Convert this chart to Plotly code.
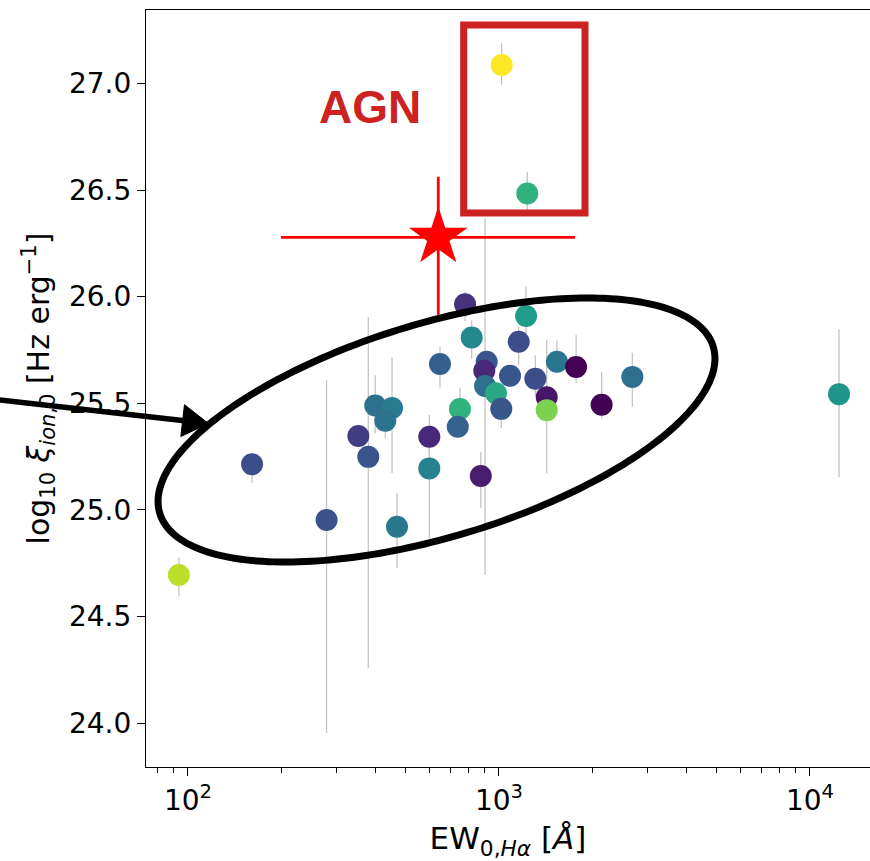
import numpy as np
import plotly.graph_objects as go

# ---- data ----
ew = [160.7, 279, 93.5, 353, 380, 400, 453, 431, 597, 597, 470, 646, 778, 1222, 817,
      1157, 913, 897, 902, 978, 749, 737, 1017, 1085, 1309, 1536, 1770, 1424, 1424,
      2138, 2684, 12400, 1020, 1233, 874]
xi = [25.214, 24.953, 24.695, 25.347, 25.249, 25.49, 25.478, 25.418, 25.343, 25.195,
      24.921, 25.684, 25.964, 25.909, 25.809, 25.789, 25.695, 25.653, 25.581, 25.547,
      25.473, 25.39, 25.474, 25.629, 25.615, 25.695, 25.67, 25.528, 25.468, 25.493,
      25.624, 25.543, 27.086, 26.484, 25.159]
err_up = [0.053, 0.656, 0.081, 0.03, 0.656, 0.142, 0.236, 0.04, 0.05, 0.25,
          0.158, 0.08, 0.06, 0.138, 0.08, 0.07, 0.05, 0.05, 0.788, 0.05,
          0.10, 0.05, 0.05, 0.05, 0.11, 0.10, 0.15, 0.27, 0.10, 0.155,
          0.113, 0.304, 0.102, 0.10, 0.114]
err_dn = [0.088, 0.999, 0.10, 0.03, 0.99, 0.13, 0.305, 0.08, 0.08, 0.327,
          0.194, 0.11, 0.08, 0.11, 0.10, 0.11, 0.05, 0.05, 0.886, 0.05,
          0.08, 0.05, 0.09, 0.05, 0.08, 0.05, 0.075, 0.05, 0.297, 0.064,
          0.14, 0.39, 0.093, 0.077, 0.15]
cval = [0.24, 0.25, 0.90, 0.18, 0.26, 0.37, 0.42, 0.38, 0.11, 0.45,
        0.40, 0.30, 0.14, 0.55, 0.47, 0.24, 0.27, 0.11, 0.37, 0.60,
        0.64, 0.31, 0.27, 0.27, 0.24, 0.39, 0.00, 0.06, 0.80, 0.00,
        0.36, 0.52, 1.00, 0.64, 0.08]

star_ew = [638]
star_xi = [26.278]
star_ew_lo = [439]
star_ew_hi = [1117]
star_xi_up = [0.284]
star_xi_dn = [0.363]

x_tickvals = [100, 1000, 10000]
x_ticktext = ["10<sup>2</sup>", "10<sup>3</sup>", "10<sup>4</sup>"]
y_tickvals = [24.0, 24.5, 25.0, 25.5, 26.0, 26.5, 27.0]

# ---- layout geometry (pixels) ----
W, H = 870, 861
ML, MR, MT, MB = 146, 0, 10, 94
PW, PH = W - ML - MR, H - MT - MB


def to_paper(px, py):
    return (np.asarray(px, dtype=float) - ML) / PW, (H - MB - np.asarray(py, dtype=float)) / PH


fig = go.Figure()

fig.add_trace(go.Scatter(
    x=ew, y=xi, mode="markers",
    marker=dict(size=22, color=cval, colorscale="Viridis", cmin=0, cmax=1,
                line=dict(width=0)),
    error_y=dict(type="data", symmetric=False, array=err_up, arrayminus=err_dn,
                 color="#c4c4c4", thickness=1.3, width=0),
    showlegend=False,
))

fig.add_trace(go.Scatter(
    x=star_ew, y=star_xi, mode="markers",
    marker=dict(symbol="star", size=44, color="#ff0000", line=dict(width=0)),
    error_x=dict(type="data", symmetric=False, array=star_ew_hi, arrayminus=star_ew_lo,
                 color="#ff0000", thickness=2.8, width=0),
    error_y=dict(type="data", symmetric=False, array=star_xi_up, arrayminus=star_xi_dn,
                 color="#ff0000", thickness=2.8, width=0),
    showlegend=False,
))

# ellipse outline (annotation shape)
t = np.linspace(0, 2 * np.pi, 241)
cx, cy, a, b, th = 436.5, 430.0, 289.0, 107.0, np.deg2rad(16.75)
ex = cx + a * np.cos(t) * np.cos(th) - b * np.sin(t) * np.sin(th)
ey = cy - (a * np.cos(t) * np.sin(th) + b * np.sin(t) * np.cos(th))
epx, epy = to_paper(ex, ey)
path = "M " + " L ".join(f"{u:.5f},{v:.5f}" for u, v in zip(epx, epy)) + " Z"
fig.add_shape(type="path", path=path, xref="paper", yref="paper",
              line=dict(color="black", width=7), layer="above")

# arrow
tip = np.array([208.5, 423.5])
start = np.array([-5.0, 399.4])
d = (tip - start) / np.linalg.norm(tip - start)
perp = np.array([-d[1], d[0]])
base = tip - 26 * d
c1 = base + 16 * perp
c2 = base - 16 * perp
lx, ly = to_paper([start[0], base[0] + 2 * d[0]], [start[1], base[1] + 2 * d[1]])
fig.add_shape(type="line", xref="paper", yref="paper", x0=lx[0], y0=ly[0], x1=lx[1], y1=ly[1],
              line=dict(color="black", width=5.5), layer="above")
tx, ty = to_paper([tip[0], c1[0], c2[0]], [tip[1], c1[1], c2[1]])
fig.add_shape(type="path", xref="paper", yref="paper",
              path=f"M {tx[0]:.5f},{ty[0]:.5f} L {tx[1]:.5f},{ty[1]:.5f} L {tx[2]:.5f},{ty[2]:.5f} Z",
              fillcolor="black", line=dict(color="black", width=1), layer="above")

# AGN box
bx, by = to_paper([463.7, 585.0], [213.0, 25.0])
fig.add_shape(type="rect", xref="paper", yref="paper", x0=bx[0], x1=bx[1], y0=by[0], y1=by[1],
              line=dict(color="#cc2222", width=7), layer="above")
ax_, ay_ = to_paper([370.0], [106.7])
fig.add_annotation(x=ax_[0], y=ay_[0], xref="paper", yref="paper", text="<b>AGN</b>",
                   showarrow=False, xanchor="center", yanchor="middle",
                   font=dict(family="Liberation Sans, Arial", size=46, color="#cc2222"))

minor_vals = [k * 10 ** dcd for dcd in (1, 2, 3, 4) for k in range(2, 10)]

fig.update_xaxes(
    type="log", range=[1.865, 4.193],
    tickvals=x_tickvals, ticktext=x_ticktext,
    ticks="outside", ticklen=8, tickwidth=1.3, tickcolor="black",
    minor=dict(tickvals=minor_vals, ticks="outside", ticklen=4.5, tickwidth=1, tickcolor="black"),
    showline=True, linecolor="black", linewidth=1.3, mirror=True,
    showgrid=False, zeroline=False,
    tickfont=dict(family="DejaVu Sans", size=28, color="black"),
    title=dict(text="EW<sub>0,<i>Hα</i></sub> [<i>Å</i>]", standoff=14,
               font=dict(family="DejaVu Sans", size=31, color="black")),
)
fig.update_yaxes(
    range=[23.795, 27.344],
    tickvals=y_tickvals, tickformat=".1f",
    ticks="outside", ticklen=8, tickwidth=1.3, tickcolor="black",
    showline=True, linecolor="black", linewidth=1.3, mirror=False,
    showgrid=False, zeroline=False,
    tickfont=dict(family="DejaVu Sans", size=28, color="black"),
    title=dict(text="log<sub>10</sub> <i>ξ</i><sub><i>ion</i>,0</sub> [Hz erg<sup>−1</sup>]",
               standoff=10, font=dict(family="DejaVu Sans", size=30, color="black")),
)

fig.update_layout(
    width=W, height=H,
    margin=dict(l=ML, r=MR, t=MT, b=MB, autoexpand=False),
    plot_bgcolor="white", paper_bgcolor="white",
    showlegend=False,
)

fig.write_html("out.html")
